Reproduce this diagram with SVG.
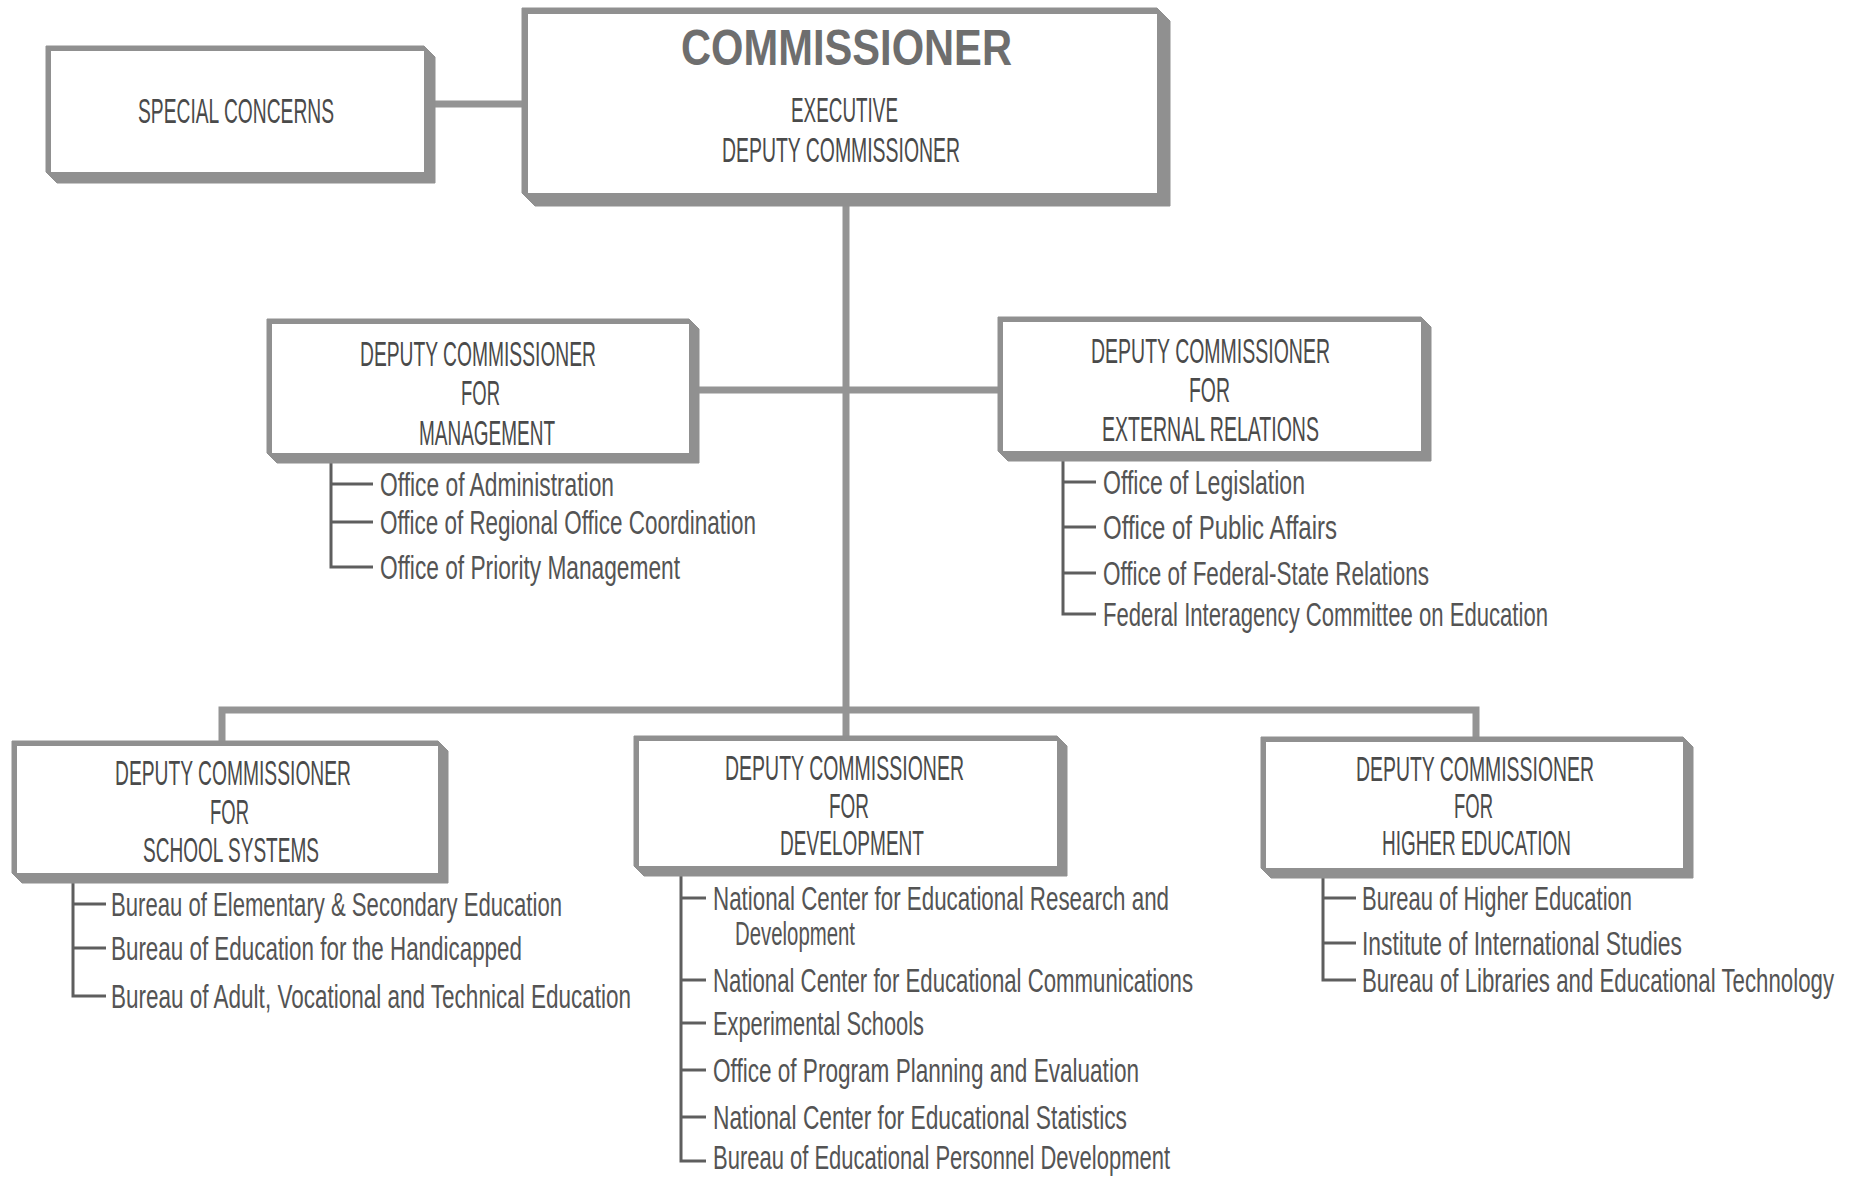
<svg xmlns="http://www.w3.org/2000/svg" width="1852" height="1177" viewBox="0 0 1852 1177">
<style>
.ext{fill:#909090;stroke:#909090;stroke-width:1}
.face{fill:#ffffff}
.conn{stroke:#949494;stroke-width:7;fill:none}
.sub{stroke:#5e5e5e;stroke-width:3;fill:none}
.t{font-family:"Liberation Sans",Arial,sans-serif;font-size:35px;fill:#4a4a4a}
.big{font-family:"Liberation Sans",Arial,sans-serif;font-size:50px;font-weight:bold;fill:#6e6e6e}
.it{font-family:"Liberation Sans",Arial,sans-serif;font-size:33px;fill:#545454}
</style>
<rect width="1852" height="1177" fill="#ffffff"/>
<g id="connectors">
<line class="conn" x1="434" y1="104" x2="524" y2="104"/>
<line class="conn" x1="846" y1="203" x2="846" y2="712"/>
<line class="conn" x1="699" y1="390" x2="998" y2="390"/>
<polyline class="conn" points="222,741 222,710 1476,710 1476,737"/>
<line class="conn" x1="846" y1="710" x2="846" y2="737"/>
<polyline class="sub" points="331,463 331,567 373,567"/>
<line class="sub" x1="331" y1="484" x2="373" y2="484"/>
<line class="sub" x1="331" y1="522" x2="373" y2="522"/>
<polyline class="sub" points="1063,461 1063,614 1096,614"/>
<line class="sub" x1="1063" y1="482" x2="1096" y2="482"/>
<line class="sub" x1="1063" y1="527" x2="1096" y2="527"/>
<line class="sub" x1="1063" y1="573" x2="1096" y2="573"/>
<polyline class="sub" points="73,883 73,996 106,996"/>
<line class="sub" x1="73" y1="904" x2="106" y2="904"/>
<line class="sub" x1="73" y1="948" x2="106" y2="948"/>
<polyline class="sub" points="681,876 681,1161 706,1161"/>
<line class="sub" x1="681" y1="898" x2="706" y2="898"/>
<line class="sub" x1="681" y1="980" x2="706" y2="980"/>
<line class="sub" x1="681" y1="1023" x2="706" y2="1023"/>
<line class="sub" x1="681" y1="1070" x2="706" y2="1070"/>
<line class="sub" x1="681" y1="1117" x2="706" y2="1117"/>
<polyline class="sub" points="1323,878 1323,980 1356,980"/>
<line class="sub" x1="1323" y1="898" x2="1356" y2="898"/>
<line class="sub" x1="1323" y1="943" x2="1356" y2="943"/>
</g>
<g id="commissioner">
<polygon class="ext" points="522,8 1157,8 1170,21 1170,206 535,206 522,193"/>
<rect class="face" x="528" y="14" width="629" height="179"/>
<text class="big" x="681" y="65" textLength="331" lengthAdjust="spacingAndGlyphs">COMMISSIONER</text>
<text class="t" x="791" y="122" textLength="107" lengthAdjust="spacingAndGlyphs">EXECUTIVE</text>
<text class="t" x="722" y="162" textLength="238" lengthAdjust="spacingAndGlyphs">DEPUTY COMMISSIONER</text>
</g>
<g id="special-concerns">
<polygon class="ext" points="46,46 424,46 435,57 435,183 57,183 46,172"/>
<rect class="face" x="51" y="51" width="373" height="121"/>
<text class="t" x="138" y="123" textLength="196" lengthAdjust="spacingAndGlyphs">SPECIAL CONCERNS</text>
</g>
<g id="dc-management">
<polygon class="ext" points="267,319 689,319 699,329 699,463 277,463 267,453"/>
<rect class="face" x="272" y="324" width="417" height="129"/>
<text class="t" x="360" y="366" textLength="236" lengthAdjust="spacingAndGlyphs">DEPUTY COMMISSIONER</text>
<text class="t" x="461" y="405" textLength="39" lengthAdjust="spacingAndGlyphs">FOR</text>
<text class="t" x="419" y="445" textLength="136" lengthAdjust="spacingAndGlyphs">MANAGEMENT</text>
<text class="it" x="380" y="496" textLength="234" lengthAdjust="spacingAndGlyphs">Office of Administration</text>
<text class="it" x="380" y="534" textLength="376" lengthAdjust="spacingAndGlyphs">Office of Regional Office Coordination</text>
<text class="it" x="380" y="579" textLength="300" lengthAdjust="spacingAndGlyphs">Office of Priority Management</text>
</g>
<g id="dc-external-relations">
<polygon class="ext" points="998,317 1421,317 1431,327 1431,461 1008,461 998,451"/>
<rect class="face" x="1003" y="322" width="418" height="129"/>
<text class="t" x="1091" y="363" textLength="239" lengthAdjust="spacingAndGlyphs">DEPUTY COMMISSIONER</text>
<text class="t" x="1189" y="402" textLength="41" lengthAdjust="spacingAndGlyphs">FOR</text>
<text class="t" x="1102" y="441" textLength="217" lengthAdjust="spacingAndGlyphs">EXTERNAL RELATIONS</text>
<text class="it" x="1103" y="494" textLength="202" lengthAdjust="spacingAndGlyphs">Office of Legislation</text>
<text class="it" x="1103" y="539" textLength="234" lengthAdjust="spacingAndGlyphs">Office of Public Affairs</text>
<text class="it" x="1103" y="585" textLength="326" lengthAdjust="spacingAndGlyphs">Office of Federal-State Relations</text>
<text class="it" x="1103" y="626" textLength="445" lengthAdjust="spacingAndGlyphs">Federal Interagency Committee on Education</text>
</g>
<g id="dc-school-systems">
<polygon class="ext" points="12,741 438,741 448,751 448,883 22,883 12,873"/>
<rect class="face" x="17" y="746" width="421" height="127"/>
<text class="t" x="115" y="785" textLength="236" lengthAdjust="spacingAndGlyphs">DEPUTY COMMISSIONER</text>
<text class="t" x="210" y="824" textLength="39" lengthAdjust="spacingAndGlyphs">FOR</text>
<text class="t" x="143" y="862" textLength="176" lengthAdjust="spacingAndGlyphs">SCHOOL SYSTEMS</text>
<text class="it" x="111" y="916" textLength="451" lengthAdjust="spacingAndGlyphs">Bureau of Elementary &amp; Secondary Education</text>
<text class="it" x="111" y="960" textLength="411" lengthAdjust="spacingAndGlyphs">Bureau of Education for the Handicapped</text>
<text class="it" x="111" y="1008" textLength="520" lengthAdjust="spacingAndGlyphs">Bureau of Adult, Vocational and Technical Education</text>
</g>
<g id="dc-development">
<polygon class="ext" points="634,736 1057,736 1067,746 1067,876 644,876 634,866"/>
<rect class="face" x="639" y="741" width="418" height="125"/>
<text class="t" x="725" y="780" textLength="239" lengthAdjust="spacingAndGlyphs">DEPUTY COMMISSIONER</text>
<text class="t" x="829" y="818" textLength="40" lengthAdjust="spacingAndGlyphs">FOR</text>
<text class="t" x="780" y="855" textLength="144" lengthAdjust="spacingAndGlyphs">DEVELOPMENT</text>
<text class="it" x="713" y="910" textLength="456" lengthAdjust="spacingAndGlyphs">National Center for Educational Research and</text>
<text class="it" x="735" y="945" textLength="120" lengthAdjust="spacingAndGlyphs">Development</text>
<text class="it" x="713" y="992" textLength="480" lengthAdjust="spacingAndGlyphs">National Center for Educational Communications</text>
<text class="it" x="713" y="1035" textLength="211" lengthAdjust="spacingAndGlyphs">Experimental Schools</text>
<text class="it" x="713" y="1082" textLength="426" lengthAdjust="spacingAndGlyphs">Office of Program Planning and Evaluation</text>
<text class="it" x="713" y="1129" textLength="414" lengthAdjust="spacingAndGlyphs">National Center for Educational Statistics</text>
<text class="it" x="713" y="1169" textLength="457" lengthAdjust="spacingAndGlyphs">Bureau of Educational Personnel Development</text>
</g>
<g id="dc-higher-education">
<polygon class="ext" points="1261,737 1683,737 1693,747 1693,878 1271,878 1261,868"/>
<rect class="face" x="1266" y="742" width="417" height="126"/>
<text class="t" x="1356" y="781" textLength="238" lengthAdjust="spacingAndGlyphs">DEPUTY COMMISSIONER</text>
<text class="t" x="1454" y="818" textLength="39" lengthAdjust="spacingAndGlyphs">FOR</text>
<text class="t" x="1382" y="855" textLength="189" lengthAdjust="spacingAndGlyphs">HIGHER EDUCATION</text>
<text class="it" x="1362" y="910" textLength="270" lengthAdjust="spacingAndGlyphs">Bureau of Higher Education</text>
<text class="it" x="1362" y="955" textLength="320" lengthAdjust="spacingAndGlyphs">Institute of International Studies</text>
<text class="it" x="1362" y="992" textLength="472" lengthAdjust="spacingAndGlyphs">Bureau of Libraries and Educational Technology</text>
</g>
</svg>
